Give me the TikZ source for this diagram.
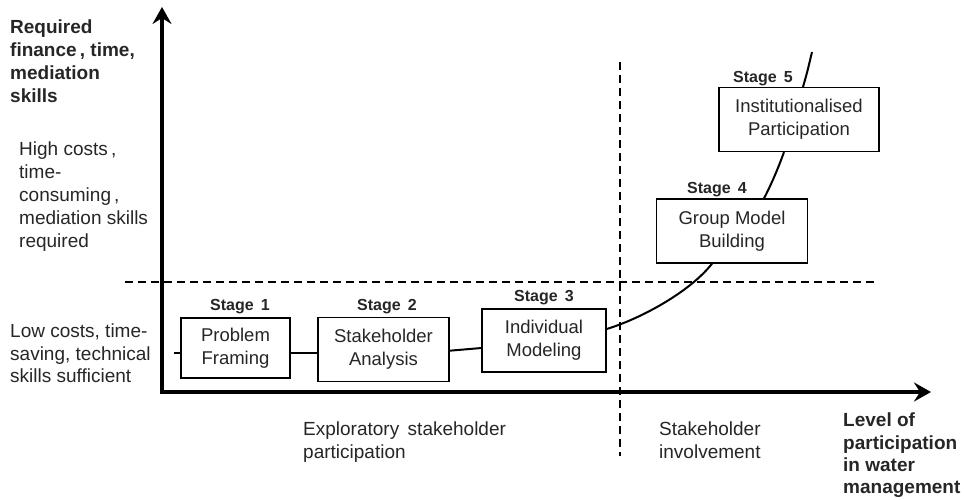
\documentclass[tikz,border=0pt]{standalone}
\usepackage{fontspec}
\setmainfont{Liberation Sans}
\usetikzlibrary{arrows.meta,calc}
\definecolor{txt}{gray}{0.15}
\begin{document}
\begin{tikzpicture}[x=1pt,y=-1pt,
  axis/.style={line width=4pt,-{Stealth[length=17pt,width=19pt,inset=6pt]}},
  dashline/.style={line width=2pt,dash pattern=on 8pt off 5pt},
  stagebox/.style={draw=black,line width=1.2pt,fill=white,align=center,inner sep=0pt,
     text=txt,font=\fontsize{18.5}{23}\selectfont},
  stagelbl/.style={text=txt,font=\bfseries\fontsize{16}{19}\selectfont,inner sep=0pt},
  lbl/.style={text=txt,align=left,inner sep=0pt,anchor=north west,
     font=\fontsize{19}{23}\selectfont},
  blbl/.style={lbl,font=\bfseries\fontsize{19}{23}\selectfont},
  curve/.style={line width=2pt,black}]
\useasboundingbox (0,0) rectangle (964,499);

% axes
\coordinate (o) at (162,392);
\coordinate (ytip) at (162,7);
\coordinate (xstart) at (160,392);
\coordinate (xtip) at (931,392);
\draw[axis] ($(o)+(0,2)$) -- (ytip);
\draw[axis] (xstart) -- (xtip);

% dashed separators
\coordinate (hd1) at (125,282);
\coordinate (hd2) at (878,282);
\coordinate (vd1) at (620,62);
\coordinate (vd2) at (620,456);
\draw[dashline] (hd1) -- (hd2);
\draw[dashline] (vd1) -- (vd2);

% boxes
\node[stagebox,minimum width=109pt,minimum height=60pt] (b1) at (235.5,348) {Problem\\Framing};
\node[stagebox,minimum width=131pt,minimum height=64pt] (b2) at (383.5,349.7) {\raisebox{-3pt}{Stakeholder}\\\raisebox{-3pt}{Analysis}};
\node[stagebox,minimum width=124pt,minimum height=63pt] (b3) at (544,340.5) {\raisebox{-3pt}{Individual}\\\raisebox{-3pt}{Modeling}};
\node[stagebox,minimum width=151pt,minimum height=64pt] (b4) at (732,231) {Group Model\\Building};
\node[stagebox,minimum width=160pt,minimum height=64pt] (b5) at (799,119.5) {\raisebox{-2pt}{Institutionalised}\\\raisebox{-2pt}{Participation}};

% stage labels
\node[stagelbl] (s1) at (240,307) {Stage\, 1};
\node[stagelbl] (s2) at (387,307) {Stage\, 2};
\node[stagelbl] (s3) at (544,298) {Stage\, 3};
\node[stagelbl] (s4) at (717,190) {Stage\, 4};
\node[stagelbl] (s5) at (763,79) {Stage\, 5};

% curve
\coordinate (c0) at (174,353);
\coordinate (c5) at (812,52);
\draw[curve] (c0) -- (b1.west|-c0);
\draw[curve] (b1.east|-c0) -- (b2.west|-c0);
\draw[curve] ($(b2.east)+(0,1)$) -- ($(b3.west)+(0,7.5)$);
\draw[curve] ($(b3.east)+(0,-11.5)$) .. controls (640,319) and (690,292) .. ($(b4.south)+(-20,0)$);
\draw[curve] ($(b4.north)+(32,0)$) .. controls (772,183) and (779,166) .. ($(b5.south)+(-15,0)$);
\draw[curve] ($(b5.north)+(4,0)$) .. controls (807,73) .. (c5);

% axis and region labels
\node[blbl] (ylab) at (10,20) {Required\\finance\,, time,\\mediation\\skills};
\node[lbl] (high) at (19,141.5) {High costs\,,\\time-\\consuming\,,\\mediation skills\\required};
\node[lbl,font=\fontsize{19}{22.5}\selectfont] (low) at (10,324) {Low costs, time-\\saving, technical\\skills sufficient};
\node[lbl] (expl) at (303,421.5) {Exploratory\, stakeholder\\participation};
\node[lbl] (inv) at (659,422) {Stakeholder\\involvement};
\node[blbl,font=\bfseries\fontsize{19}{22.3}\selectfont] (xlab) at (843,413) {Level of\\participation\\in water\\management};
\end{tikzpicture}
\end{document}
